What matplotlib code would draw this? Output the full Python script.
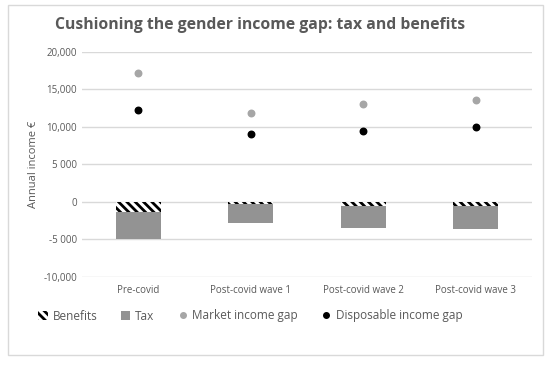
import matplotlib.pyplot as plt
import numpy as np
from matplotlib.lines import Line2D
from matplotlib.patches import Patch

categories = ["Pre-covid", "Post-covid wave 1", "Post-covid wave 2", "Post-covid wave 3"]
benefits = [-1300, -300, -500, -500]
tax = [-3600, -2500, -3000, -3100]
market_gap = [17200, 11800, 13100, 13600]
disposable_gap = [12300, 9000, 9500, 10000]

yticks = [-10000, -5000, 0, 5000, 10000, 15000, 20000]
ytick_labels = ["-10,000", "-5 000", "0", "5 000", "10,000", "15,000", "20,000"]

grey = "#595959"
plt.rcParams["font.family"] = ["Open Sans", "DejaVu Sans"]
plt.rcParams["hatch.linewidth"] = 2.0

fig = plt.figure(figsize=(5.5, 3.66), dpi=100)
fig.patches.append(plt.Rectangle((0.015, 0.03), 0.972, 0.955, transform=fig.transFigure,
                                 fill=False, edgecolor="#d9d9d9", linewidth=1))
ax = fig.add_axes([82 / 550, 1 - 277 / 366, 450 / 550, 225 / 366])

x = np.arange(len(categories))
ax.bar(x, benefits, width=0.4, color="white", edgecolor="black", hatch="\\\\\\\\", linewidth=0, zorder=2)
ax.bar(x, tax, width=0.4, bottom=benefits, color="#939393", zorder=2)
ax.scatter(x, market_gap, s=22, color="#a6a6a6", zorder=3)
ax.scatter(x, disposable_gap, s=22, color="black", zorder=3)

ax.set_xlim(-0.5, len(categories) - 0.5)
ax.set_ylim(-10000, 20000)
ax.set_yticks(yticks)
ax.set_yticklabels(ytick_labels)
ax.set_xticks(x)
ax.set_xticklabels(categories)
ax.tick_params(length=0, colors=grey, labelsize=7)
ax.tick_params(axis="x", pad=6)
ax.grid(axis="y", color="#d9d9d9", linewidth=1)
ax.set_axisbelow(True)
for s in ax.spines.values():
    s.set_visible(False)
ax.set_ylabel("Annual income €", color=grey, fontsize=8, labelpad=3)

fig.text(260 / 550, 1 - 25 / 366, "Cushioning the gender income gap: tax and benefits",
         ha="center", va="center", fontsize=11.3, fontweight="bold", color=grey)

handles = [
    Patch(facecolor="white", edgecolor="black", hatch="\\\\\\\\", linewidth=0, label="Benefits"),
    Patch(facecolor="#939393", label="Tax"),
    Line2D([], [], marker="o", linestyle="", color="#a6a6a6", markersize=4, label="Market income gap"),
    Line2D([], [], marker="o", linestyle="", color="black", markersize=4, label="Disposable income gap"),
]
fig.legend(handles=handles, loc="center", bbox_to_anchor=(0.455, 1 - 316 / 366), ncol=4,
           frameon=False, fontsize=8.5, labelcolor=grey, handlelength=0.8, handleheight=0.8,
           columnspacing=2.0, handletextpad=0.4)

fig.savefig("out.png", dpi=100)
